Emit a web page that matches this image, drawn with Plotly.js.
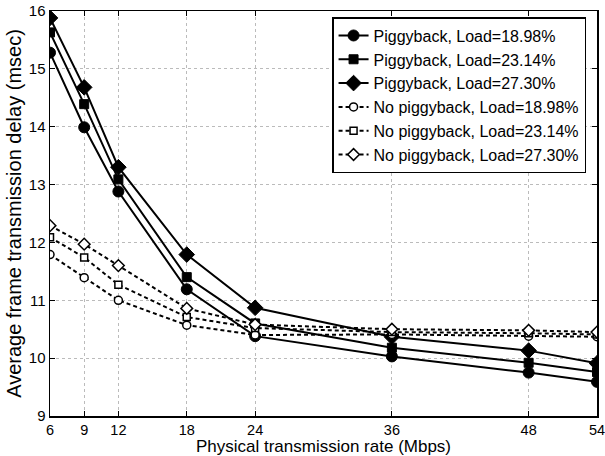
<!DOCTYPE html>
<html>
<head>
<meta charset="utf-8">
<script src="https://cdn.plot.ly/plotly-3.0.1.min.js"></script>
<style>html,body{margin:0;padding:0;background:#fff}#chart{width:605px;height:456px}</style>
</head>
<body>
<div id="chart"></div>
<script>
const rates = [6, 9, 12, 18, 24, 36, 48, 54];
const pig1898 = [15.28, 13.99, 12.88, 11.19, 10.38, 10.03, 9.75, 9.59];
const pig2314 = [15.63, 14.39, 13.09, 11.40, 10.60, 10.18, 9.92, 9.76];
const pig2730 = [15.88, 14.68, 13.30, 11.79, 10.87, 10.37, 10.13, 9.91];
const nopig1898 = [11.79, 11.39, 11.00, 10.57, 10.40, 10.41, 10.38, 10.37];
const nopig2314 = [12.09, 11.74, 11.27, 10.71, 10.52, 10.45, 10.43, 10.41];
const nopig2730 = [12.29, 11.97, 11.60, 10.86, 10.58, 10.50, 10.48, 10.45];
const names = ['Piggyback, Load=18.98%', 'Piggyback, Load=23.14%', 'Piggyback, Load=27.30%',
  'No piggyback, Load=18.98%', 'No piggyback, Load=23.14%', 'No piggyback, Load=27.30%'];
const xTicks = [6, 9, 12, 18, 24, 36, 48, 54];
const yTicks = [9, 10, 11, 12, 13, 14, 15, 16];

function solid(y, name, sym, size) {
  return {x: rates, y: y, name: name, type: 'scatter', mode: 'lines+markers',
    line: {color: '#000', width: 2},
    marker: {symbol: sym, size: size, color: '#000', line: {color: '#000', width: 1}}};
}
function dashed(y, name, sym, size) {
  return {x: rates, y: y, name: name, type: 'scatter', mode: 'lines+markers',
    line: {color: '#000', width: 2, dash: '4px,3px'},
    marker: {symbol: sym, size: size, color: '#fff', line: {color: '#000', width: 1.5}}};
}
const data = [
  solid(pig1898, names[0], 'circle', 11),
  solid(pig2314, names[1], 'square', 9),
  solid(pig2730, names[2], 'diamond', 12),
  dashed(nopig1898, names[3], 'circle', 8),
  dashed(nopig2314, names[4], 'square', 7),
  dashed(nopig2730, names[5], 'diamond', 9)
];

const font = {family: 'Liberation Sans, Arial, sans-serif', color: '#000'};
const layout = {
  width: 605, height: 456,
  margin: {l: 50, r: 8, t: 11, b: 40},
  paper_bgcolor: '#fff', plot_bgcolor: '#fff',
  font: Object.assign({size: 15}, font),
  showlegend: true,
  legend: {x: 0.98, y: 0.985, xanchor: 'right', yanchor: 'top',
    bgcolor: '#fff', bordercolor: '#000', borderwidth: 1.5,
    font: Object.assign({size: 16}, font), tracegroupgap: 0, itemwidth: 30},
  xaxis: {range: [6, 54], tickvals: xTicks, ticktext: xTicks.map(String),
    showgrid: true, gridcolor: '#bbb', griddash: 'dot', gridwidth: 1,
    showline: true, linecolor: '#000', linewidth: 1.5, mirror: 'ticks',
    ticks: 'inside', ticklen: 5, tickcolor: '#000', zeroline: false,
    ticklabeloverflow: 'allow', ticklabelstandoff: 0,
    tickfont: Object.assign({size: 14.5}, font),
    title: {text: 'Physical transmission rate (Mbps)', font: Object.assign({size: 17}, font), standoff: 1}},
  yaxis: {range: [9, 16], tickvals: yTicks, ticktext: yTicks.map(String),
    showgrid: true, gridcolor: '#bbb', griddash: 'dot', gridwidth: 1,
    showline: true, linecolor: '#000', linewidth: 1.5, mirror: 'ticks',
    ticks: 'inside', ticklen: 5, tickcolor: '#000', zeroline: false,
    ticklabeloverflow: 'allow',
    tickfont: Object.assign({size: 15}, font),
    title: {text: 'Average frame transmission delay (msec)', font: Object.assign({size: 20}, font), standoff: 2}}
};
Plotly.newPlot('chart', data, layout, {displayModeBar: false, staticPlot: true});
</script>
</body>
</html>
